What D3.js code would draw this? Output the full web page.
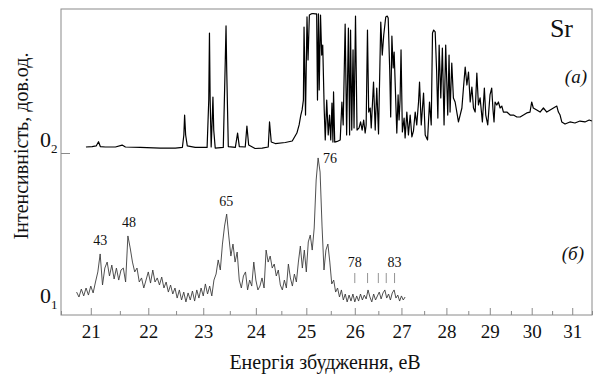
<!DOCTYPE html>
<html>
<head>
<meta charset="utf-8">
<script src="https://cdn.jsdelivr.net/npm/d3@7/dist/d3.min.js"></script>
<style>
  body { margin: 0; background: #fff; }
  svg text { font-family: "Liberation Serif", "Times New Roman", "DejaVu Serif", serif; fill: #111; }
</style>
</head>
<body>
<svg id="svg" width="595" height="376" font-family="Liberation Serif, DejaVu Serif, serif"></svg>
<script>
// spectrum (a): energy, eV / intensity, arb. units
const aEnergy = [20.918,21.023,21.092,21.132,21.162,21.249,21.423,21.539,21.597,21.857,22.215,22.487,22.615,22.642,22.656,22.675,22.705,22.851,
  23.072,23.103,23.116,23.129,23.148,23.167,23.181,23.196,23.224,23.376,23.414,23.428,23.441,23.471,23.605,23.648,23.681,23.795,23.827,23.861,23.985,
  24.123,24.242,24.267,24.301,24.380,24.578,24.717,24.810,24.855,24.889,24.915,24.941,24.954,24.984,
  25.014,25.035,25.062,25.097,25.138,25.179,25.210,25.227,25.247,25.262,25.289,25.313,25.334,25.365,25.386,25.416,25.447,25.474,25.499,25.524,25.544,25.557,25.581,25.633,25.695,25.730,25.757,25.798,25.829,25.866,25.891,25.911,25.936,25.963,25.984,
  26.015,26.047,26.090,26.122,26.155,26.187,26.219,26.240,26.268,26.294,26.326,26.348,26.397,26.433,26.466,26.504,26.552,26.584,26.616,26.659,26.691,26.712,26.745,26.766,26.792,26.820,26.841,26.899,26.927,26.948,26.970,26.991,
  27.020,27.058,27.080,27.118,27.153,27.191,27.229,27.264,27.302,27.336,27.376,27.398,27.436,27.487,27.524,27.576,27.620,27.658,27.687,27.713,27.747,27.780,27.807,27.836,27.873,27.909,27.947,27.984,
  28.030,28.060,28.083,28.122,28.159,28.198,28.274,28.313,28.353,28.389,28.429,28.468,28.505,28.544,28.583,28.620,28.659,28.698,28.735,28.774,28.827,28.873,28.906,28.952,
  29.005,29.045,29.076,29.100,29.124,29.165,29.203,29.243,29.284,29.322,29.403,29.482,29.561,29.642,29.721,29.800,29.881,29.959,
  30.000,30.039,30.123,30.204,30.286,30.369,30.451,30.532,30.616,30.655,30.697,30.739,30.820,30.943,31.068,31.194,31.321,31.429,31.497];
const aIntensity = [4,4.3,4.7,7.5,4.3,4,4,5.3,4,3.7,3.3,3.3,3.7,12,25.3,12,4.7,3.7,
  3.7,35.3,80,35.3,4,22,37.3,15.3,3.3,3.7,62,84.7,55.3,4.3,3.7,13.3,4.3,4,18,5.3,3,
  3.3,4,20.7,7.3,6.3,7,8,13.3,18.7,25.3,28.7,35.3,84,25.3,
  90.7,62,92,92.7,93,92.7,92.7,35.3,92.7,42,92,65.3,72,28.7,8.7,35.3,12,25.3,8.7,33.3,7.3,40.7,7.3,7.7,8.7,34,18.7,86,12,83.3,12,82,15.3,68.7,16.7,
  91.3,15.3,16.7,20.7,15.3,22,13.3,18.7,82,27.3,30,16.7,47.3,15.3,43.3,12.7,87.3,65.3,78.7,90.7,91.3,90,55.3,24,78,56.7,67.3,13.3,38.7,22,35.3,68.7,
  14,23.3,10,27.3,12,25.3,10.7,14.7,27.3,18.7,34,47.3,18.7,40,12,8.7,34,18.7,80,82,80.7,54,23.3,72,36.7,70,18.7,72,
  25.3,65.3,27.3,60,36.7,34,20.7,25.3,30,43.3,57.3,45.3,54,34,44,30,27.3,53.3,32,36.7,20.7,43.3,25.3,18.7,
  38.7,43.3,28.7,20.7,34,32,34,30,31.3,27.3,27.3,25.3,25.3,24,24,25.3,26.7,27.3,
  34,30,28.7,27.3,30,27.3,28.7,30,31.3,27.3,25.3,20.7,19.3,20.7,20,21.3,20.7,22,21.3];

// spectrum (б): sampled every 0.04 eV from 20.76 to 27.08 eV
const bEnergyStart = 20.76, bEnergyStep = 0.04;
const bIntensity = [11.3,8,13.3,8.7,14,9.3,15.3,10.7,18,24.7,36.7,16,27.3,31.3,22,29.3,20,27.3,19.3,26,
  27.3,18,48.7,40.7,31.3,24.7,27.3,18,20.7,14,19.3,24.7,17.3,26,18,20.7,16,21.3,14,18,
  11.3,16,10,14,7.3,12.7,6,11.3,4.7,10.7,6,12,5.3,12.7,7.3,14,8.7,16.7,10,15.3,
  8.7,19.3,23.3,32.7,26,43.3,55.3,63.3,48.7,35.3,43.3,31.3,38,19.3,14,22,24.7,12.7,19.3,15.3,
  31.3,19.3,12.7,15.3,20.7,14,39.3,31.3,35.3,27.3,30,22,26,16,12.7,19.3,14,30,20.7,15.3,
  23.3,18,31.3,42,27.3,39.3,24.7,44.7,49.3,39.3,54,86,100.7,91.3,55.3,26,39.3,43.3,31.3,16.7,
  19.3,11.3,14,8,12.7,6,10,4.7,9.3,5.3,10,4.7,8.7,5.3,10,6,9.3,6.7,12.7,8,
  4.7,10,6,8.7,11.3,6.7,10.7,12.7,7.3,10,6,10.7,12.7,7.3,9.3,5.3,8.7,6,8];

const xTicks = [21, 22, 23, 24, 25, 26, 27, 28, 29, 30, 31];
const xMinorTicks = [20.5, 21.5, 22.5, 23.5, 24.5, 25.5, 26.5, 27.5, 28.5, 29.5, 30.5, 31.5];
const aOffset = 104;               // baseline of spectrum (a): level "0₂"
const peakNames = ["43", "48", "65", "76"];
const peakEnergies = [21.16, 21.66, 23.43, 25.24];
const markerNames = ["78", "", "", "", "83"];
const markerEnergies = [26.0, 26.27, 26.5, 26.67, 26.85];
const markerRange = [17.3, 24];

const svg = d3.select('#svg');
const plotLeft = 61, plotRight = 592, plotTop = 9, plotBottom = 315;

const x = d3.scaleLog().domain([20.5, 31.5]).range([plotLeft, plotRight]);
const y = d3.scaleLinear().domain([-4, 200]).range([plotBottom, plotTop]);

const frameColor = '#8a8a8a';
const serif = 'Liberation Serif, DejaVu Serif, serif';

svg.append('defs').append('clipPath').attr('id', 'clip')
  .append('rect').attr('x', plotLeft).attr('y', plotTop)
  .attr('width', plotRight - plotLeft).attr('height', plotBottom - plotTop);

// frame
svg.append('rect').attr('x', plotLeft).attr('y', plotTop)
  .attr('width', plotRight - plotLeft).attr('height', plotBottom - plotTop)
  .attr('fill', 'none').attr('stroke', frameColor).attr('stroke-width', 1);

// x axis
const xAxis = svg.append('g').attr('transform', `translate(0,${plotBottom})`)
  .call(d3.axisBottom(x).tickValues(xTicks).tickFormat(d3.format('d')).tickSize(-7).tickPadding(10));
const xMinor = svg.append('g').attr('transform', `translate(0,${plotBottom})`)
  .call(d3.axisBottom(x).tickValues(xMinorTicks).tickFormat('').tickSize(-4));
[xAxis, xMinor].forEach(g => {
  g.attr('font-family', serif);
  g.select('.domain').remove();
  g.selectAll('line').attr('stroke', frameColor);
});
xAxis.selectAll('text').attr('font-size', 19).attr('fill', '#111');

// y axis tick at 0₂
const yAxis = svg.append('g').attr('transform', `translate(${plotLeft},0)`)
  .call(d3.axisRight(y).tickValues([aOffset]).tickFormat('').tickSize(9));
yAxis.select('.domain').remove();
yAxis.selectAll('line').attr('stroke', frameColor);

function zeroLabel(v, sub) {
  const t = svg.append('text').attr('x', 40).attr('y', y(v) - 6).attr('font-size', 22);
  t.append('tspan').text('0');
  t.append('tspan').attr('font-size', 13).attr('dy', 6).text(sub);
}
zeroLabel(aOffset, '2');
zeroLabel(0, '1');

// spectra
const aData = aEnergy.map((e, i) => ({ e, v: aIntensity[i] + aOffset }));
const bData = bIntensity.map((v, i) => ({ e: bEnergyStart + i * bEnergyStep, v }));
const line = d3.line().x(d => x(d.e)).y(d => y(d.v));

const plot = svg.append('g').attr('clip-path', 'url(#clip)');
plot.append('path').datum(bData).attr('d', line)
  .attr('fill', 'none').attr('stroke', '#3c3c3c').attr('stroke-width', 0.9).attr('stroke-linejoin', 'round');
plot.append('path').datum(aData).attr('d', line)
  .attr('fill', 'none').attr('stroke', '#000').attr('stroke-width', 1.2).attr('stroke-linejoin', 'round');

// peak labels on spectrum (б)
peakNames.forEach((name, i) => {
  const near = bData.filter(d => Math.abs(d.e - peakEnergies[i]) < 0.05);
  const vMax = d3.max(near, d => d.v);
  const isLast = i === peakNames.length - 1;
  svg.append('text')
    .attr('x', x(peakEnergies[i]) + (isLast ? 5 : 0))
    .attr('y', y(vMax) + (isLast ? 5 : -8.5))
    .attr('text-anchor', isLast ? 'start' : 'middle')
    .attr('font-size', 14)
    .text(name);
});

// level markers 78..83
svg.append('g').selectAll('line').data(markerEnergies).join('line')
  .attr('x1', d => x(d)).attr('x2', d => x(d))
  .attr('y1', y(markerRange[0])).attr('y2', y(markerRange[1]))
  .attr('stroke', '#777').attr('stroke-width', 0.8);
svg.append('g').selectAll('text').data(markerEnergies).join('text')
  .attr('x', d => x(d)).attr('y', y(markerRange[1]) - 6)
  .attr('text-anchor', 'middle').attr('font-size', 14)
  .text((d, i) => markerNames[i]);

// panel labels
svg.append('text').attr('x', 573).attr('y', 37).attr('text-anchor', 'end').attr('font-size', 26).text('Sr');
svg.append('text').attr('x', 587).attr('y', 83).attr('text-anchor', 'end').attr('font-size', 19)
  .attr('font-style', 'italic').text('(а)');
svg.append('text').attr('x', 584).attr('y', 260).attr('text-anchor', 'end').attr('font-size', 19)
  .attr('font-style', 'italic').text('(б)');

// axis titles
svg.append('text').attr('x', 325).attr('y', 369).attr('text-anchor', 'middle').attr('font-size', 20)
  .text('Енергія збудження, еВ');
svg.append('text').attr('transform', 'translate(28,146) rotate(-90)').attr('text-anchor', 'middle')
  .attr('font-size', 20).text('Інтенсивність, дов.од.');
</script>
</body>
</html>
